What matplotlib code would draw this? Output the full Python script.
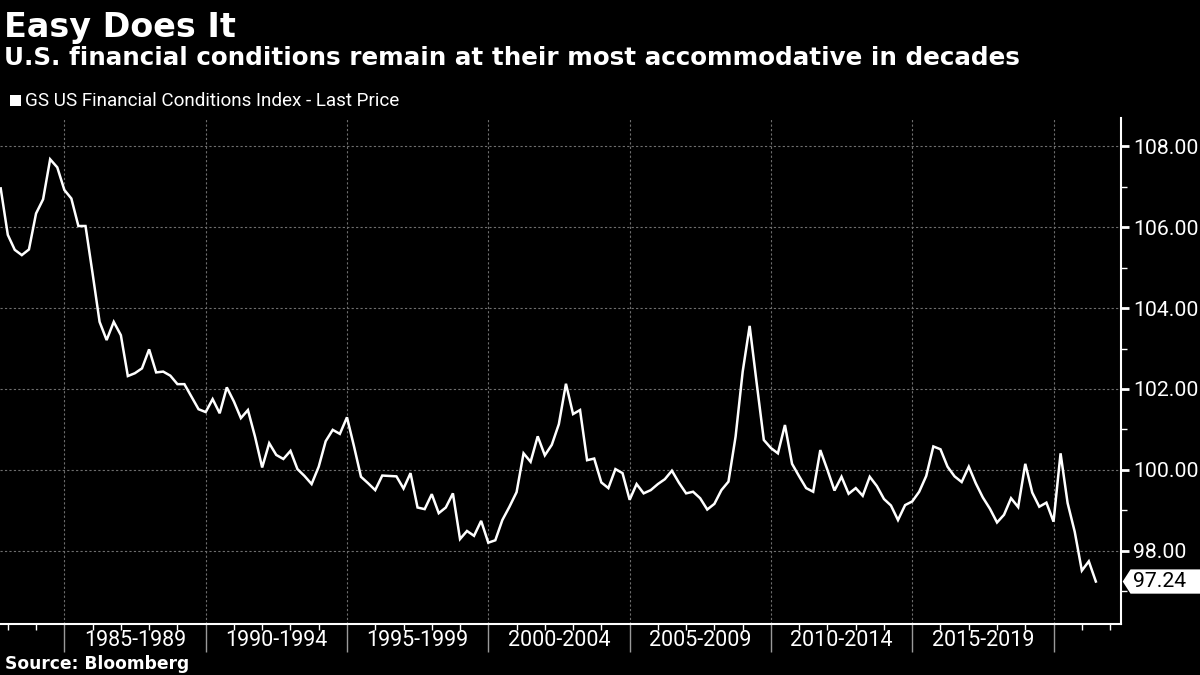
import numpy as np
import pandas as pd
import matplotlib
matplotlib.use("Agg")
import matplotlib.pyplot as plt
import matplotlib.dates as mdates
import matplotlib.transforms as mtransforms
from matplotlib.patches import Rectangle, Polygon

# GS US Financial Conditions Index, quarterly
start = "1982-10-01"
fci = [106.96, 105.81, 105.44, 105.31, 105.45, 106.34, 106.69, 107.68, 107.48, 106.92,
       106.71, 106.03, 106.03, 104.85, 103.66, 103.21, 103.66, 103.33, 102.32, 102.39,
       102.51, 102.98, 102.41, 102.43, 102.33, 102.12, 102.12,
       101.81, 101.50, 101.43, 101.75, 101.40, 102.04, 101.69, 101.28, 101.48, 100.82,
       100.06, 100.66, 100.37, 100.27, 100.47, 100.02, 99.85, 99.65, 100.08, 100.71,
       100.99, 100.89, 101.30, 100.59, 99.83, 99.67, 99.50,
       99.86, 99.85, 99.84, 99.54, 99.92, 99.07, 99.03, 99.40, 98.93, 99.07,
       99.42, 98.29, 98.49, 98.37, 98.74, 98.20, 98.26, 98.76, 99.09, 99.45,
       100.41, 100.20, 100.83, 100.36, 100.62, 101.13,
       102.13, 101.38, 101.48, 100.24, 100.28, 99.69, 99.55, 100.02, 99.92, 99.26,
       99.65, 99.42, 99.50, 99.65, 99.77, 99.98, 99.68, 99.42, 99.46, 99.30,
       99.02, 99.16, 99.50, 99.71,
       100.82, 102.43, 103.56, 102.14, 100.74, 100.54, 100.41, 101.11, 100.15, 99.84,
       99.55, 99.46, 100.49, 100.00, 99.49, 99.83, 99.41, 99.55, 99.36, 99.83,
       99.60, 99.28, 99.12, 98.76, 99.13, 99.22, 99.46,
       99.85, 100.58, 100.51, 100.08, 99.84, 99.70, 100.08, 99.67, 99.32, 99.04,
       98.70, 98.89, 99.30, 99.08, 100.15, 99.44, 99.09, 99.19, 98.72, 100.41,
       99.18, 98.47, 97.51, 97.74, 97.24]
dates = pd.date_range(start, periods=len(fci), freq="QS")

period_starts = [1985, 1990, 1995, 2000, 2005, 2010, 2015]
period_labels = ["1985-1989", "1990-1994", "1995-1999", "2000-2004",
                 "2005-2009", "2010-2014", "2015-2019"]
ytick_vals = [98, 100, 102, 104, 106, 108]

BG = "black"
GRID = "#6e6e6e"
NUMFONT = ["Roboto", "DejaVu Sans"]

fig = plt.figure(figsize=(12, 6.75), dpi=100, facecolor=BG)
ax = fig.add_axes([0.0, 1 - 624 / 675, 1121 / 1200, (624 - 118) / 675])
ax.set_facecolor(BG)

ax.plot(dates, fci, color="white", lw=1.8, solid_joinstyle="miter", zorder=3)

ax.set_xlim(pd.Timestamp("1982-09-22"), pd.Timestamp("2022-05-22"))
ax.set_ylim(96.19, 108.70)

# spines
for s in ["left", "top"]:
    ax.spines[s].set_visible(False)
for s in ["right", "bottom"]:
    ax.spines[s].set_color("white")
    ax.spines[s].set_linewidth(1.5)

# x axis: 5-year ticks with labels centred between them, yearly minor ticks
major = [pd.Timestamp(f"{y}-01-01") for y in period_starts + [2020]]
ax.set_xticks(major)
ax.set_xticklabels([])
ax.xaxis.set_minor_locator(mdates.YearLocator(1))
ax.tick_params(axis="x", which="major", direction="out", length=20, width=1,
               color="#9a9a9a")
ax.tick_params(axis="x", which="minor", direction="out", length=4, width=1,
               color="white")
trans_x = mtransforms.blended_transform_factory(ax.transData, ax.transAxes)
for y0, lab in zip(period_starts, period_labels):
    mid = pd.Timestamp(f"{y0 + 2}-07-01")
    ax.text(mid, -0.0425, lab, transform=trans_x, ha="center", va="baseline",
            color="white", fontsize=15.5, family=NUMFONT)

# y axis on the right
ax.yaxis.tick_right()
ax.set_yticks(ytick_vals)
ax.set_yticklabels([f"{v:.2f}" for v in ytick_vals])
ax.set_yticks([v + 1 for v in ytick_vals[:-1]] + [97], minor=True)
ax.tick_params(axis="y", which="major", direction="out", length=6, width=2,
               color="white", labelcolor="white", labelsize=15.3, pad=2.5)
ax.tick_params(axis="y", which="minor", direction="out", length=4, width=1,
               color="white")
for lab in ax.get_yticklabels():
    lab.set_family(NUMFONT)

ax.grid(True, which="major", color=GRID, lw=0.8, ls=(0, (2, 2)), zorder=0)

# last-value tag
last = fci[-1]
trans_y = mtransforms.blended_transform_factory(ax.transAxes, ax.transData)
tag = Polygon([(1.0015, last), (1.0085, last + 0.30), (1.09, last + 0.30),
               (1.09, last - 0.30), (1.0085, last - 0.30)], closed=True,
              transform=trans_y, facecolor="white", edgecolor="none",
              clip_on=False, zorder=5)
ax.add_patch(tag)
ax.text(1.0105, last, f"{last:.2f}", transform=trans_y, ha="left", va="center",
        color="black", fontsize=15.3, family=NUMFONT, zorder=6)

# titles, legend, source
fig.text(0.003, 1 - 37 / 675, "Easy Does It", color="white", fontsize=24,
         fontweight="bold", va="baseline", ha="left")
fig.text(0.003, 1 - 65 / 675,
         "U.S. financial conditions remain at their most accommodative in decades",
         color="white", fontsize=17.7, fontweight="bold", va="baseline", ha="left")
fig.patches.append(Rectangle((10 / 1200, 1 - 106 / 675), 11 / 1200, 11 / 675,
                             transform=fig.transFigure, facecolor="white",
                             edgecolor="none"))
fig.text(25 / 1200, 1 - 101 / 675, "GS US Financial Conditions Index - Last Price",
         color="white", fontsize=13.6, va="center", ha="left", family=NUMFONT)
fig.text(5 / 1200, 1 - 669 / 675, "Source: Bloomberg", color="white",
         fontsize=12.3, fontweight="bold", va="baseline", ha="left")

fig.savefig("out.png", dpi=100, facecolor=BG)
